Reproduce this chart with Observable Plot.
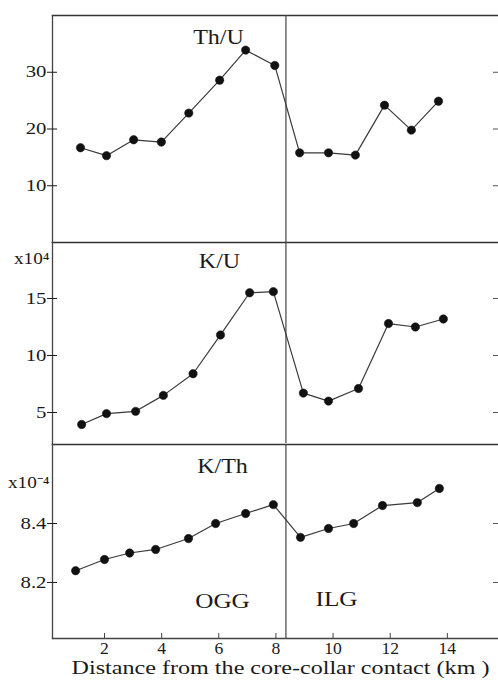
<!DOCTYPE html>
<html><head><meta charset="utf-8">
<script src="https://cdn.jsdelivr.net/npm/d3@7"></script>
<script src="https://cdn.jsdelivr.net/npm/@observablehq/plot@0.6"></script>
<style>
body{margin:0;background:#fff;}
#chart{position:relative;width:498px;height:683px;background:#fff;overflow:hidden;}
#chart svg{position:absolute;left:0;}
</style></head><body><div id="chart"></div>
<script>
// ---- data ----
const thuX = [1.16, 2.07, 3.02, 3.99, 4.95, 6.03, 6.94, 7.96, 8.83, 9.84, 10.78, 11.80, 12.74, 13.69];
const thuY = [16.7, 15.3, 18.1, 17.7, 22.8, 28.6, 33.9, 31.2, 15.8, 15.8, 15.4, 24.2, 19.8, 24.9];
const kuX  = [1.20, 2.07, 3.09, 4.06, 5.10, 6.06, 7.08, 7.91, 8.96, 9.84, 10.89, 11.94, 12.88, 13.86];
const kuY  = [3.95, 4.9, 5.1, 6.5, 8.4, 11.8, 15.5, 15.6, 6.7, 6.0, 7.1, 12.8, 12.5, 13.2];
const kthX = [0.99, 2.00, 2.88, 3.79, 4.94, 5.89, 6.94, 7.91, 8.86, 9.84, 10.72, 11.73, 12.95, 13.72];
const kthY = [8.24, 8.278, 8.30, 8.312, 8.349, 8.40, 8.434, 8.464, 8.353, 8.383, 8.40, 8.461, 8.471, 8.519];
const boundary = [8.35];
const xTicks = [2, 4, 6, 8, 10, 12, 14];
const thuTicks = [10, 20, 30];
const kuTicks = [5, 10, 15];
const kthTicks = [8.2, 8.4];
const panelLabels = ["Th/U", "K/U", "K/Th"];
const unitLabels = ["x10\u2074", "x10\u207B\u2074"];
const zoneLabels = ["OGG", "ILG"];
const xTitle = "Distance from the core-collar contact (km )";

const FONT = "Liberation Serif, Times New Roman, serif";
const INK = "#1a1a1a";
const LINE = "#3a3a3a";
const xDomain = [0.18, 15.79];

function panel({xs, ys, yDomain, yTicks, yFormat, top, height, mTop, mBottom, extra, showX}) {
  const idx = d3.range(xs.length);
  const marks = [
    Plot.frame({anchor: "top", stroke: "#333", strokeWidth: 1.6}),
    Plot.frame({anchor: "left", stroke: "#444", strokeWidth: 1.3}),
    Plot.ruleX(boundary, {stroke: "#444", strokeWidth: 1.2}),
    Plot.axisY({ticks: yTicks, tickSize: 10, dx: 5, tickPadding: 1, tickFormat: yFormat,
      fontSize: 16, fontFamily: FONT, fill: INK, color: INK}),
    Plot.axisY({anchor: "right", ticks: yTicks, tickSize: 6, dx: -6, tickFormat: () => "", color: "#555"}),
    Plot.line(idx, {x: i => xs[i], y: i => ys[i], stroke: LINE, strokeWidth: 1.2}),
    Plot.dot(idx, {x: i => xs[i], y: i => ys[i], r: 4.2, fill: "#111", stroke: "#111", strokeWidth: 0.5}),
    ...extra
  ];
  if (showX) {
    marks.push(Plot.frame({anchor: "bottom", stroke: "#444", strokeWidth: 1.4}));
    marks.push(Plot.axisX({ticks: xTicks, tickSize: 5, dy: -5, tickPadding: 4, fontSize: 16,
      fontFamily: FONT, color: "#444", fill: INK}));
    marks.push(Plot.text([xTitle], {text: d => d, frameAnchor: "bottom", dx: 5, dy: 35,
      lineAnchor: "bottom", fontSize: 19, fontFamily: FONT, fill: INK}));
  }
  const svg = Plot.plot({
    width: 498, height,
    marginLeft: 52, marginRight: 0, marginTop: mTop, marginBottom: mBottom,
    x: {domain: xDomain, axis: null},
    y: {domain: yDomain, axis: null},
    style: {background: "transparent", overflow: "visible", fontFamily: FONT},
    marks
  });
  svg.style.top = top + "px";
  return svg;
}

const txt = (s, o) => Plot.text([s], {text: d => d, fontFamily: FONT, fill: INK, lineAnchor: "bottom", ...o});

const chart = document.getElementById("chart");
const p1 = panel({xs: thuX, ys: thuY, yDomain: [0, 40], yTicks: thuTicks, yFormat: d3.format("d"),
  top: 0, height: 244, mTop: 15, mBottom: 2,
  extra: [txt(panelLabels[0], {frameAnchor: "top", dx: -57, dy: 28, fontSize: 20})]});
const p2 = panel({xs: kuX, ys: kuY, yDomain: [2.28, 19.91], yTicks: kuTicks, yFormat: d3.format("d"),
  top: 240, height: 206, mTop: 2, mBottom: 3,
  extra: [txt(panelLabels[1], {frameAnchor: "top", dx: -56, dy: 25, fontSize: 20}),
          txt(unitLabels[0], {frameAnchor: "top-left", textAnchor: "end", dx: -3, dy: 21, fontSize: 16})]});
const p3 = panel({xs: kthX, ys: kthY, yDomain: [8.01, 8.668], yTicks: kthTicks, yFormat: d3.format(".1f"),
  top: 440, height: 243, mTop: 4, mBottom: 45, showX: true,
  extra: [txt(panelLabels[2], {frameAnchor: "top", dx: -53, dy: 28, fontSize: 20}),
          txt(unitLabels[1], {frameAnchor: "top-left", textAnchor: "end", dx: -3, dy: 43, fontSize: 16}),
          txt(zoneLabels[0], {frameAnchor: "bottom", dx: -53, dy: -31, fontSize: 21}),
          txt(zoneLabels[1], {frameAnchor: "bottom", dx: 61, dy: -33, fontSize: 21})]});
chart.append(p1, p2, p3);

// horizontal stretch of the scanned lettering
function stretch(el, factor) {
  const w = el.getComputedTextLength();
  if (w > 0) { el.setAttribute("textLength", w * factor); el.setAttribute("lengthAdjust", "spacingAndGlyphs"); }
}
for (const svg of [p1, p2, p3]) {
  svg.querySelectorAll('g[aria-label="y-axis tick label"] text').forEach(t => stretch(t, 1.3));
  svg.querySelectorAll('g[aria-label="x-axis tick label"] text').forEach(t => stretch(t, 1.1));
  svg.querySelectorAll('g[aria-label="text"] text').forEach(t => {
    if (t.textContent === xTitle) {
      t.setAttribute("textLength", 418); t.setAttribute("lengthAdjust", "spacingAndGlyphs");
    } else stretch(t, 1.2);
  });
}
</script></body></html>
